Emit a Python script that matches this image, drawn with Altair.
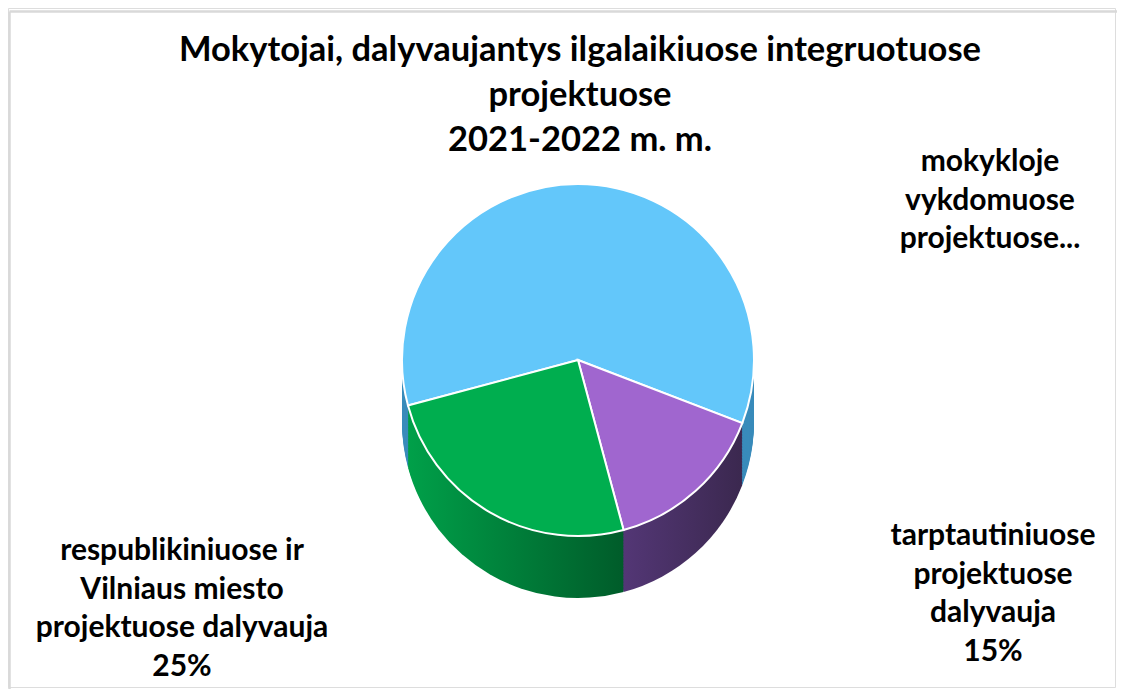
import math
import altair as alt
import pandas as pd

# ---- data ----
categories = [
    "mokykloje vykdomuose projektuose",
    "tarptautiniuose projektuose dalyvauja",
    "respublikiniuose ir Vilniaus miesto projektuose dalyvauja",
]
values = [60, 15, 25]
order = [0, 1, 2]
label_lines = [
    ["mokykloje", "vykdomuose", "projektuose..."],
    ["tarptautiniuose", "projektuose", "dalyvauja"],
    ["respublikiniuose ir", "Vilniaus miesto", "projektuose dalyvauja"],
]
show_pct = [False, True, True]
title_lines = [
    "Mokytojai, dalyvaujantys ilgalaikiuose integruotuose",
    "projektuose",
    "2021-2022 m. m.",
]

top_colors = ["#63C7FA", "#A066CF", "#00AE4F"]

labels = []
for lines, v, sp in zip(label_lines, values, show_pct):
    ls = list(lines) + ([f"{v}%"] if sp else [])
    labels.append("\n".join(ls))

df = pd.DataFrame({"kategorija": categories, "dalis": values, "eile": order, "zyme": labels})

# ---- layout ----
W, H = 1109, 681
CX, CY = 570, 352       # pie centre (chart coords)
R = 176
DEPTH = 62
START = math.radians(255)
FONT = "Lato"

theta = alt.Theta("dalis:Q", stack=True,
                  scale=alt.Scale(range=[START, START + 2 * math.pi]))
ordr = alt.Order("eile:Q")

base = alt.Chart(df)

green_grad = alt.LinearGradient(
    gradient="linear", x1=0, x2=1, y1=0, y2=0,
    stops=[alt.GradientStop(color="#00A049", offset=0),
           alt.GradientStop(color="#005C2A", offset=1)])
purple_grad = alt.LinearGradient(
    gradient="linear", x1=0, x2=1, y1=0, y2=0,
    stops=[alt.GradientStop(color="#5C3C84", offset=0),
           alt.GradientStop(color="#3B284F", offset=1)])

side_color = (
    alt.when(alt.datum.kategorija == categories[2]).then(alt.value(green_grad))
    .when(alt.datum.kategorija == categories[1]).then(alt.value(purple_grad))
    .otherwise(alt.value("#3A8CBB"))
)

layers = []
# border lines of the chart area (only left and top are visible)
border = alt.Chart(pd.DataFrame({"a": [0]}))
layers.append(border.mark_rule(color="#D9D9D9", strokeWidth=2.5).encode(
    x=alt.value(1.5), y=alt.value(3.5), y2=alt.value(H)))
layers.append(border.mark_rule(color="#D9D9D9", strokeWidth=2.5).encode(
    x=alt.value(1.5), x2=alt.value(W), y=alt.value(3.5)))

# side (depth) of the pie
k = DEPTH
while k > 0:
    layers.append(base.mark_arc(radius=R, strokeWidth=0).encode(
        theta=theta, order=ordr, color=side_color,
        x=alt.value(CX), y=alt.value(CY + k)))
    k -= 1.5

# top face
layers.append(base.mark_arc(radius=R, stroke="white", strokeWidth=2).encode(
    theta=theta, order=ordr,
    color=alt.Color("kategorija:N", scale=alt.Scale(domain=categories, range=top_colors),
                    legend=None),
    x=alt.value(CX), y=alt.value(CY)))

# title
TS = 34.5
title_df = pd.DataFrame({"t": ["\n".join(title_lines)]})
layers.append(alt.Chart(title_df).mark_text(
    font=FONT, fontWeight="bold", fontSize=TS, lineHeight=45, lineBreak="\n",
    align="center", baseline="top", color="black").encode(
    text="t:N", x=alt.value(572), y=alt.value(26)))

# data labels
LS = 30
label_pos = [(982, 139), (985, 513), (174, 528)]
for cat, (lx, ly) in zip(categories, label_pos):
    layers.append(base.transform_filter(alt.datum.kategorija == cat).mark_text(
        font=FONT, fontWeight="bold", fontSize=LS, lineHeight=38.5, lineBreak="\n",
        align="center", baseline="top", color="black").encode(
        text="zyme:N", x=alt.value(lx), y=alt.value(ly)))

chart = alt.layer(*layers).properties(
    width=W, height=H, padding=0,
    autosize=alt.AutoSizeParams(type="fit", contains="padding"),
).configure_view(strokeWidth=0).configure(background="white")

chart.save("out.html", embed_options={"renderer": "svg", "actions": False})
